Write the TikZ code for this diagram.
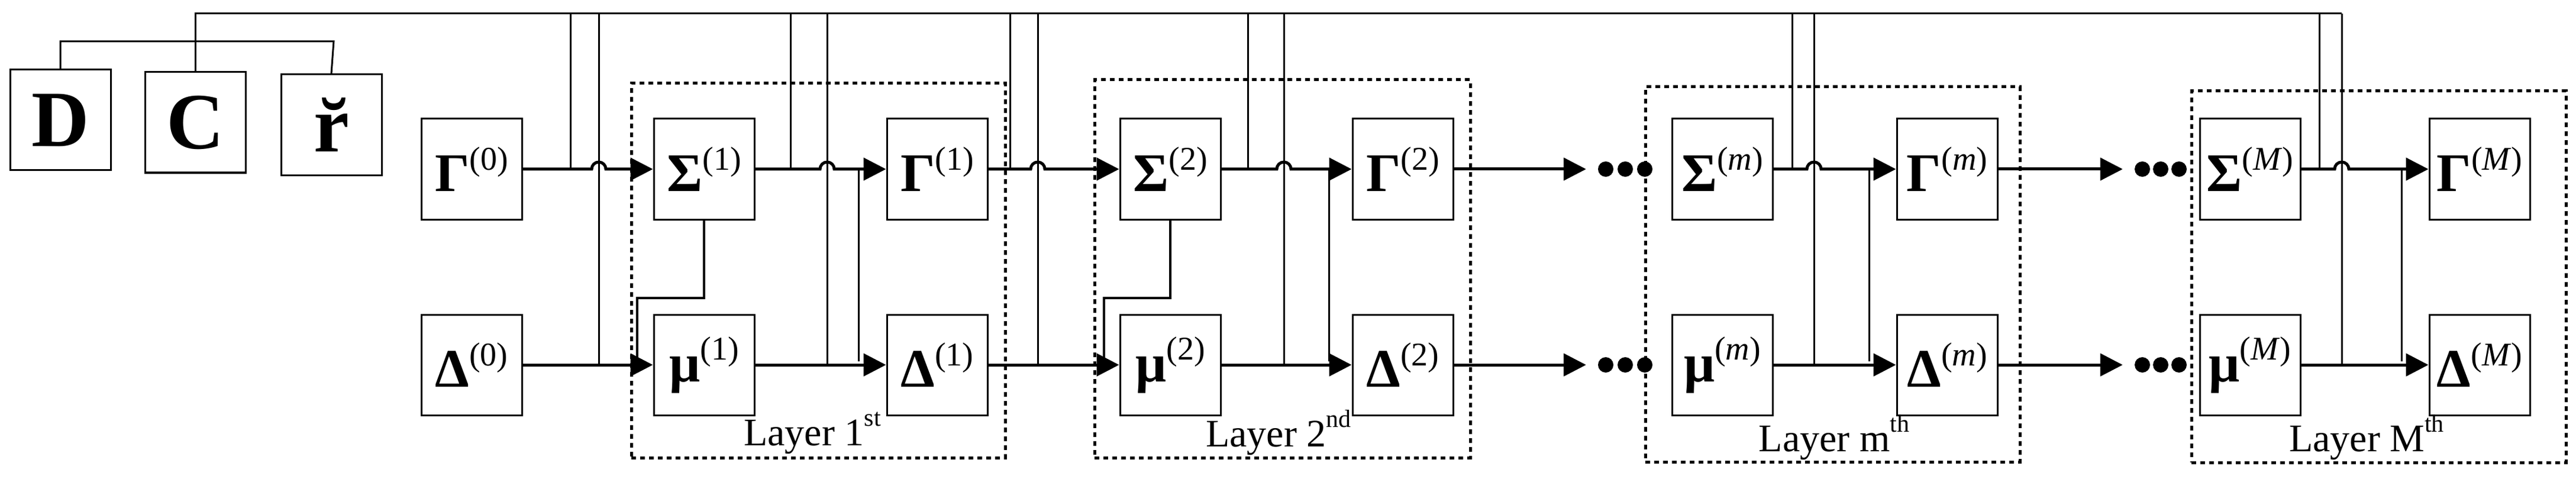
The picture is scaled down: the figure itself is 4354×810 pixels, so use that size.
\documentclass[tikz,border=0pt]{standalone}
\usepackage{fontspec}
\setmainfont{Liberation Serif}
\usetikzlibrary{arrows.meta}
\newcommand\lab[2]{\textbf{#1}\raisebox{0.40em}{\fontsize{56}{56}\selectfont #2}}
\newcommand\ord[1]{\raisebox{0.5em}{\fontsize{42}{42}\selectfont #1}}
\begin{document}
\begin{tikzpicture}[x=1pt,y=-1pt,
  box/.style={draw,line width=3pt,minimum width=170pt,minimum height=170pt,inner sep=0pt,font=\fontsize{92}{96}\selectfont},
  big/.style={box,font=\bfseries\fontsize{135}{140}\selectfont},
  main/.style={line width=5pt},
  arr/.style={main,-{Triangle[length=38pt,width=38pt]}},
  tap/.style={line width=3pt},
  layer/.style={draw,line width=5pt,dash pattern=on 8pt off 7pt,inner sep=0pt},
  ltext/.style={font=\fontsize{66}{70}\selectfont},
  dot/.style={circle,fill,inner sep=0pt,minimum size=26pt}]
\useasboundingbox (0,0) rectangle (4354,810);
% layers
\node[layer,minimum width=632pt,minimum height=633pt] (L1) at (1383,457.5) {};
\node[layer,minimum width=635pt,minimum height=639pt] (L2) at (2167.5,454.5) {};
\node[layer,minimum width=633pt,minimum height=634pt] (Lm) at (3097.5,464) {};
\node[layer,minimum width=633pt,minimum height=628pt] (LM) at (4020.5,468) {};
\node[ltext] (t1) at (1373,732) {Layer 1\ord{st}};
\node[ltext] (t2) at (2161,732) {Layer 2\ord{nd}};
\node[ltext] (tm) at (3100,740) {Layer m\ord{th}};
\node[ltext] (tM) at (4000,740) {Layer M\ord{th}};
% inputs
\node[big] (D) at (102,203) {D};
\node[big] (C) at (330,207) {C};
\node[big] (r) at (560,211) {\u{r}};
% boxes
\node[box] (G0) at (797,286) {\lab{Γ}{(0)}};
\node[box] (D0) at (797,617) {\lab{Δ}{(0)}};
\node[box] (S1) at (1190,286) {\lab{Σ}{(1)}};
\node[box] (M1) at (1190,617) {\lab{μ}{(1)}};
\node[box] (G1) at (1584,286) {\lab{Γ}{(1)}};
\node[box] (D1) at (1584,617) {\lab{Δ}{(1)}};
\node[box] (S2) at (1978,286) {\lab{Σ}{(2)}};
\node[box] (M2) at (1978,617) {\lab{μ}{(2)}};
\node[box] (G2) at (2371,286) {\lab{Γ}{(2)}};
\node[box] (D2) at (2371,617) {\lab{Δ}{(2)}};
\node[box] (Sm) at (2911,286) {\lab{Σ}{(\textit{m})}};
\node[box] (Mm) at (2911,617) {\lab{μ}{(\textit{m})}};
\node[box] (Gm) at (3291,286) {\lab{Γ}{(\textit{m})}};
\node[box] (Dm) at (3291,617) {\lab{Δ}{(\textit{m})}};
\node[box] (SM) at (3803,286) {\lab{Σ}{(\textit{M})}};
\node[box] (MM) at (3803,617) {\lab{μ}{(\textit{M})}};
\node[box] (GM) at (4191,286) {\lab{Γ}{(\textit{M})}};
\node[box] (DM) at (4191,617) {\lab{Δ}{(\textit{M})}};
% dots
\node[dot] (d1) at (2714,286) {};\node[dot] (d2) at (2747,286) {};\node[dot] (d3) at (2780,286) {};
\node[dot] (e1) at (2714,617) {};\node[dot] (e2) at (2747,617) {};\node[dot] (e3) at (2780,617) {};
\node[dot] (f1) at (3621,286) {};\node[dot] (f2) at (3652,286) {};\node[dot] (f3) at (3683,286) {};
\node[dot] (g1) at (3621,617) {};\node[dot] (g2) at (3652,617) {};\node[dot] (g3) at (3683,617) {};
% top bus
\coordinate (br) at (564,70);
\draw[tap] (D.north) |- (br) -- (r.north);
\coordinate (a1) at (964,23);  \coordinate (b1) at (1012,23);
\coordinate (a2) at (1336,23); \coordinate (b2) at (1398,23);
\coordinate (a3) at (1707,23); \coordinate (b3) at (1754,23);
\coordinate (a4) at (2109,23); \coordinate (b4) at (2170,23);
\coordinate (a5) at (3029,23); \coordinate (b5) at (3066,23);
\coordinate (a6) at (3920,23); \coordinate (b6) at (3958,23);
\draw[tap] (C.north) |- (b6);
\foreach \i in {1,...,6}{
  \draw[tap] (a\i) -- (a\i |- G0.east);
  \draw[tap] (b\i) -- (b\i |- D0.east);}
% upper row with humps
\draw[arr] (G0.east) -- ([xshift=-12pt]b1 |- G0.east) arc[start angle=180,end angle=0,radius=12pt] -- (S1.west);
\draw[arr] (S1.east) -- ([xshift=-12pt]b2 |- G0.east) arc[start angle=180,end angle=0,radius=12pt] -- (G1.west);
\draw[arr] (G1.east) -- ([xshift=-12pt]b3 |- G0.east) arc[start angle=180,end angle=0,radius=12pt] -- (S2.west);
\draw[arr] (S2.east) -- ([xshift=-12pt]b4 |- G0.east) arc[start angle=180,end angle=0,radius=12pt] -- (G2.west);
\draw[arr] (Sm.east) -- ([xshift=-12pt]b5 |- G0.east) arc[start angle=180,end angle=0,radius=12pt] -- (Gm.west);
\draw[arr] (SM.east) -- ([xshift=-12pt]b6 |- G0.east) arc[start angle=180,end angle=0,radius=12pt] -- (GM.west);
\draw[arr] (G2.east) -- ([xshift=-20pt]d1.west);
\draw[arr] (Gm.east) -- ([xshift=-20pt]f1.west);
% lower row
\draw[arr] (D0.east) -- (M1.west);
\draw[arr] (M1.east) -- (D1.west);
\draw[arr] (D1.east) -- (M2.west);
\draw[arr] (M2.east) -- (D2.west);
\draw[arr] (Mm.east) -- (Dm.west);
\draw[arr] (MM.east) -- (DM.west);
\draw[arr] (D2.east) -- ([xshift=-20pt]e1.west);
\draw[arr] (Dm.east) -- ([xshift=-20pt]g1.west);
% drops Sigma -> Delta
\coordinate (p1) at (1451,286); \coordinate (p2) at (2246,286);
\coordinate (p3) at (3159,286); \coordinate (p4) at (4059,286);
\foreach \i in {1,...,4}{\draw[tap] (p\i) -- ([yshift=6pt]p\i |- D0.east);}
% Sigma -> mu
\coordinate (q1) at (1077,504); \coordinate (q2) at (1866,504);
\draw[line width=4pt] (S1.south) |- (q1) -- (q1 |- M1.west);
\draw[line width=4pt] (S2.south) |- (q2) -- (q2 |- M2.west);
\end{tikzpicture}
\end{document}
